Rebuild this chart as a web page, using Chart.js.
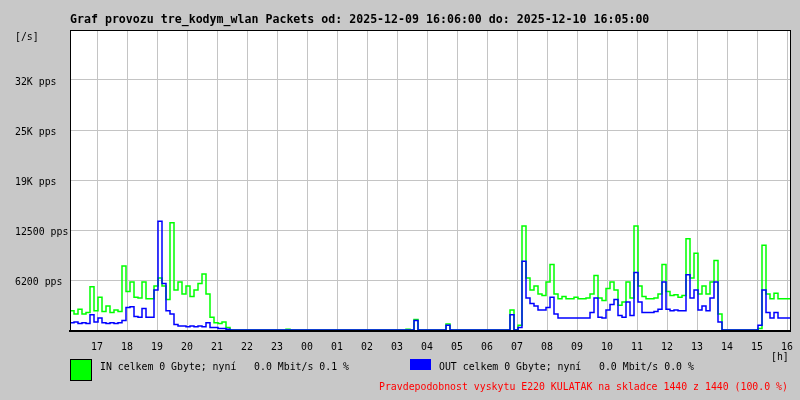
<!DOCTYPE html>
<html>
<head>
<meta charset="utf-8">
<script src="https://cdn.jsdelivr.net/npm/chart.js@4"></script>
<style>
body { margin: 0; background: #c8c8c8; }
#wrap { position: relative; width: 800px; height: 400px; background: #c8c8c8; font-family: "DejaVu Sans Mono", monospace; font-size: 9.85px; color: #000; }
#wrap canvas { position: absolute; left: 0; top: 0; }
.t { position: absolute; white-space: pre; line-height: 12px; }
</style>
</head>
<body>
<div id="wrap">
  <canvas id="graf" width="800" height="400"></canvas>
  <div class="t" style="left:70px;top:12px;font-weight:bold;font-size:11.6px;line-height:14px">Graf provozu tre_kodym_wlan Packets od: 2025-12-09 16:06:00 do: 2025-12-10 16:05:00</div>
  <div class="t" style="left:15px;top:31px">[/s]</div>
  <div class="t" style="left:771px;top:351px">[h]</div>
  <div style="position:absolute;left:70px;top:359px;width:22px;height:22px;box-sizing:border-box;border:1px solid #000;background:#00ff00"></div>
  <div class="t" style="left:100px;top:361px">IN celkem 0 Gbyte; nyní   0.0 Mbit/s 0.1 %</div>
  <div style="position:absolute;left:410px;top:359px;width:21px;height:11px;background:#0000ff"></div>
  <div class="t" style="left:439px;top:361px">OUT celkem 0 Gbyte; nyní   0.0 Mbit/s 0.0 %</div>
  <div class="t" style="left:379px;top:381px;color:#ff0000">Pravdepodobnost vyskytu E220 KULATAK na skladce 1440 z 1440 (100.0 %)</div>
</div>
<script>
// 8 minute samples starting 2025-12-09 16:06
const STEP_MIN = 8;
const TOTAL_MIN = 1440;
const FIRST_HOUR_OFFSET = 54; // 17:00 is 54 min after 16:06

const hourLabels = ['17','18','19','20','21','22','23','00','01','02','03','04',
  '05','06','07','08','09','10','11','12','13','14','15','16'];

const yTicks = [6250, 12500, 18750, 25000, 31250];
const yLabels = ['6200 pps', '12500 pps', '19K pps', '25K pps', '32K pps'];
const yMax = 37500;

const inPps = [
  5400, 2400, 2000, 2600, 2000, 2200, 5400, 2400, 4100, 2300,
  3000, 2200, 2500, 2300, 8000, 4800, 6000, 4100, 4000, 6000,
  3900, 3900, 5500, 6500, 5500, 3800, 13400, 5000, 6000, 4500,
  5500, 4200, 5000, 5800, 7000, 4500, 1600, 900, 800, 1000,
  300, 0, 0, 0, 0, 0, 0, 0, 0, 0,
  0, 0, 0, 0, 0, 100, 0, 0, 0, 0,
  0, 0, 0, 0, 0, 0, 0, 0, 0, 0,
  0, 0, 0, 0, 0, 0, 0, 0, 0, 0,
  0, 0, 0, 0, 0, 100, 0, 1300, 0, 0,
  0, 0, 0, 0, 0, 750, 0, 0, 0, 0,
  0, 0, 0, 0, 0, 0, 0, 0, 0, 0,
  0, 2500, 0, 600, 13000, 6500, 5000, 5500, 4500, 4300,
  6000, 8200, 4500, 3900, 4200, 3900, 3900, 4100, 3900, 3900,
  4000, 4500, 6800, 4000, 3700, 5200, 6000, 5000, 3100, 3500,
  6000, 4000, 13000, 5500, 4200, 3900, 3900, 4000, 4500, 8200,
  4800, 4300, 4400, 4100, 4300, 11400, 6500, 9600, 4500, 5500,
  4500, 6000, 8700, 2000, 0, 0, 0, 0, 0, 0,
  0, 0, 0, 200, 10600, 4500, 3900, 4600, 3900, 3900
];

const outPps = [
  1600, 900, 1000, 800, 900, 800, 1900, 1000, 1500, 900,
  800, 900, 800, 900, 1200, 2800, 2900, 1700, 1600, 2700,
  1600, 1600, 5000, 13600, 5800, 2400, 2000, 700, 500, 500,
  400, 500, 400, 500, 400, 900, 300, 300, 200, 200,
  100, 0, 0, 0, 0, 0, 0, 0, 0, 0,
  0, 0, 0, 0, 0, 0, 0, 0, 0, 0,
  0, 0, 0, 0, 0, 0, 0, 0, 0, 0,
  0, 0, 0, 0, 0, 0, 0, 0, 0, 0,
  0, 0, 0, 0, 0, 0, 0, 1200, 0, 0,
  0, 0, 0, 0, 0, 600, 0, 0, 0, 0,
  0, 0, 0, 0, 0, 0, 0, 0, 0, 0,
  0, 1900, 0, 300, 8600, 4000, 3300, 3000, 2500, 2500,
  2800, 4100, 2000, 1500, 1500, 1500, 1500, 1500, 1500, 1500,
  1500, 2200, 4000, 1600, 1500, 2500, 3200, 3800, 1800, 1600,
  3500, 1800, 7200, 3500, 2200, 2200, 2200, 2300, 2600, 6000,
  2600, 2400, 2500, 2400, 2400, 6900, 4000, 5000, 2500, 3000,
  2400, 4000, 6000, 1000, 0, 0, 0, 0, 0, 0,
  0, 0, 0, 600, 5000, 2200, 1500, 2200, 1500, 1500
];

function toPoints(arr) {
  const pts = arr.map((v, i) => ({ x: i * STEP_MIN, y: v }));
  pts.push({ x: TOTAL_MIN, y: arr[arr.length - 1] });
  return pts;
}

const xTickValues = hourLabels.map((h, i) => FIRST_HOUR_OFFSET + i * 60);

const framePlugin = {
  id: 'frame',
  beforeDraw(chart) {
    const a = chart.chartArea, ctx = chart.ctx;
    ctx.save();
    ctx.fillStyle = '#ffffff';
    ctx.fillRect(a.left, a.top, a.right - a.left, a.bottom - a.top);
    ctx.restore();
  },
  afterDatasetsDraw(chart) {
    const a = chart.chartArea, ctx = chart.ctx;
    ctx.save();
    ctx.strokeStyle = '#000';
    ctx.lineWidth = 1;
    ctx.strokeRect(a.left + 0.5, a.top + 0.5, a.right - a.left, a.bottom - a.top);
    ctx.fillStyle = '#000';
    ctx.fillRect(a.left - 1, a.bottom, a.right - a.left + 2, 2);
    ctx.restore();
  }
};

new Chart(document.getElementById('graf'), {
  type: 'line',
  data: {
    datasets: [
      { label: 'IN', data: toPoints(inPps), borderColor: '#00ff00', borderWidth: 1.5, stepped: 'after', pointRadius: 0, order: 1 },
      { label: 'OUT', data: toPoints(outPps), borderColor: '#0000ff', borderWidth: 1.5, stepped: 'after', pointRadius: 0, order: 0 }
    ]
  },
  options: {
    responsive: false,
    animation: false,
    layout: { padding: { left: 15, top: 30, right: 10, bottom: 0 } },
    plugins: { legend: { display: false }, tooltip: { enabled: false }, title: { display: false } },
    scales: {
      x: {
        type: 'linear',
        min: 0,
        max: TOTAL_MIN,
        afterBuildTicks: s => { s.ticks = xTickValues.map(v => ({ value: v })); },
        afterFit: s => { s.height = 70; s.paddingLeft = 0; s.paddingRight = 0; },
        ticks: {
          callback: (v, i) => hourLabels[i],
          maxRotation: 0, autoSkip: false, padding: 12,
          color: '#000', font: { family: 'DejaVu Sans Mono', size: 9.85 }
        },
        grid: { color: '#c4c4c4', drawTicks: false },
        border: { display: false }
      },
      y: {
        min: 0,
        max: yMax,
        afterBuildTicks: s => { s.ticks = [0, ...yTicks, yMax].map(v => ({ value: v })); },
        afterFit: s => { s.width = 55; s.paddingTop = 0; s.paddingBottom = 0; },
        ticks: {
          callback: v => { const k = yTicks.indexOf(v); return k >= 0 ? yLabels[k] : ''; },
          crossAlign: 'far', padding: 0, labelOffset: 2,
          color: '#000', font: { family: 'DejaVu Sans Mono', size: 9.85 }
        },
        grid: { color: '#c4c4c4', drawTicks: false },
        border: { display: false }
      }
    }
  },
  plugins: [framePlugin]
});
</script>
</body>
</html>
